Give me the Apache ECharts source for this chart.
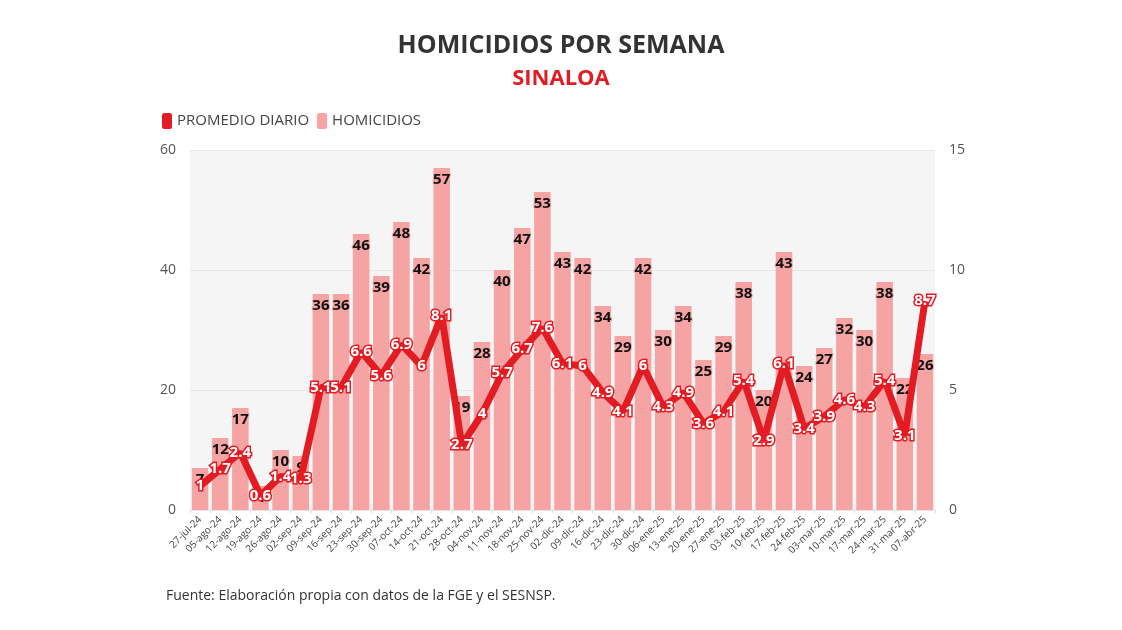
<!DOCTYPE html>
<html><head><meta charset="utf-8">
<script src="https://cdn.jsdelivr.net/npm/echarts@6/dist/echarts.min.js"></script>
<style>html,body{margin:0;padding:0;background:#fff}#c{width:1122px;height:630px}</style>
</head><body><div id="c"></div>
<script>
const categories = ["27-jul-24","05-ago-24","12-ago-24","19-ago-24","26-ago-24","02-sep-24","09-sep-24","16-sep-24","23-sep-24","30-sep-24","07-oct-24","14-oct-24","21-oct-24","28-oct-24","04-nov-24","11-nov-24","18-nov-24","25-nov-24","02-dic-24","09-dic-24","16-dic-24","23-dic-24","30-dic-24","06-ene-25","13-ene-25","20-ene-25","27-ene-25","03-feb-25","10-feb-25","17-feb-25","24-feb-25","03-mar-25","10-mar-25","17-mar-25","24-mar-25","31-mar-25","07-abr-25"];
const homicidios = [7,12,17,4,10,9,36,36,46,39,48,42,57,19,28,40,47,53,43,42,34,29,42,30,34,25,29,38,20,43,24,27,32,30,38,22,26];
const promedio = [1,1.7,2.4,0.6,1.4,1.3,5.1,5.1,6.6,5.6,6.9,6,8.1,2.7,4,5.7,6.7,7.6,6.1,6,4.9,4.1,6,4.3,4.9,3.6,4.1,5.4,2.9,6.1,3.4,3.9,4.6,4.3,5.4,3.1,8.7];
const leftTicks = [0,20,40,60];
const rightTicks = [0,5,10,15];

const chart = echarts.init(document.getElementById('c'));
const FONT = '"Open Sans", Lato, sans-serif';
chart.setOption({
  backgroundColor: '#fff',
  textStyle: {fontFamily: FONT},
  title: [
    {text: 'HOMICIDIOS POR SEMANA', left: 'center', top: 28, textStyle: {fontSize: 25, fontWeight: 'bold', color: '#333', fontFamily: FONT}},
    {text: 'SINALOA', left: 'center', top: 63, textStyle: {fontSize: 22, fontWeight: 'bold', color: '#e31b23', fontFamily: FONT}},
    {text: 'Fuente: Elaboración propia con datos de la FGE y el SESNSP.', left: 161, top: 584, textStyle: {fontSize: 14, fontWeight: 'normal', color: '#333', fontFamily: FONT}}
  ],
  legend: {
    left: 157, top: 108, itemWidth: 10, itemHeight: 16, itemGap: 8,
    icon: 'roundRect',
    textStyle: {fontSize: 15, color: '#444', fontFamily: FONT},
    data: [{name: 'PROMEDIO DIARIO', itemStyle: {color: '#e31b23'}}, {name: 'HOMICIDIOS', itemStyle: {color: '#f5a3a3'}}]
  },
  grid: {left: 190, right: 187, top: 150, bottom: 120, backgroundColor: '#f5f5f5', show: true, borderWidth: 0},
  xAxis: {
    type: 'category', data: categories,
    axisLine: {show: false}, axisTick: {show: true, lineStyle: {color: '#ddd'}, length: 3},
    axisLabel: {rotate: 45, fontSize: 10, color: '#444', interval: 0, margin: 8}
  },
  yAxis: [
    {type: 'value', min: 0, max: 60, interval: 20, axisLabel: {fontSize: 14, color: '#555', margin: 14},
     splitLine: {lineStyle: {color: '#e6e6e6'}}, axisLine: {show: false}},
    {type: 'value', min: 0, max: 15, interval: 5, axisLabel: {fontSize: 14, color: '#555', margin: 14},
     splitLine: {show: false}, axisLine: {show: false}}
  ],
  series: [
    {name: 'HOMICIDIOS', type: 'bar', data: homicidios, yAxisIndex: 0, barCategoryGap: '18%',
     itemStyle: {color: '#f5a3a3'},
     label: {show: true, position: 'insideTop', distance: 4, fontSize: 15, fontWeight: 'bold', color: '#111',
       textBorderColor: '#f5a3a3', textBorderWidth: 2}},
    {name: 'PROMEDIO DIARIO', type: 'line', data: promedio, yAxisIndex: 1,
     lineStyle: {color: '#e31b23', width: 7}, itemStyle: {color: '#e31b23'},
     symbol: 'circle', symbolSize: 1, showSymbol: true, z: 5,
     labelLayout: {hideOverlap: false},
     label: {show: true, position: 'inside', fontSize: 15, fontWeight: 'bold', color: '#fff',
       textBorderColor: '#e31b23', textBorderWidth: 3}}
  ]
});
</script>
</body></html>
